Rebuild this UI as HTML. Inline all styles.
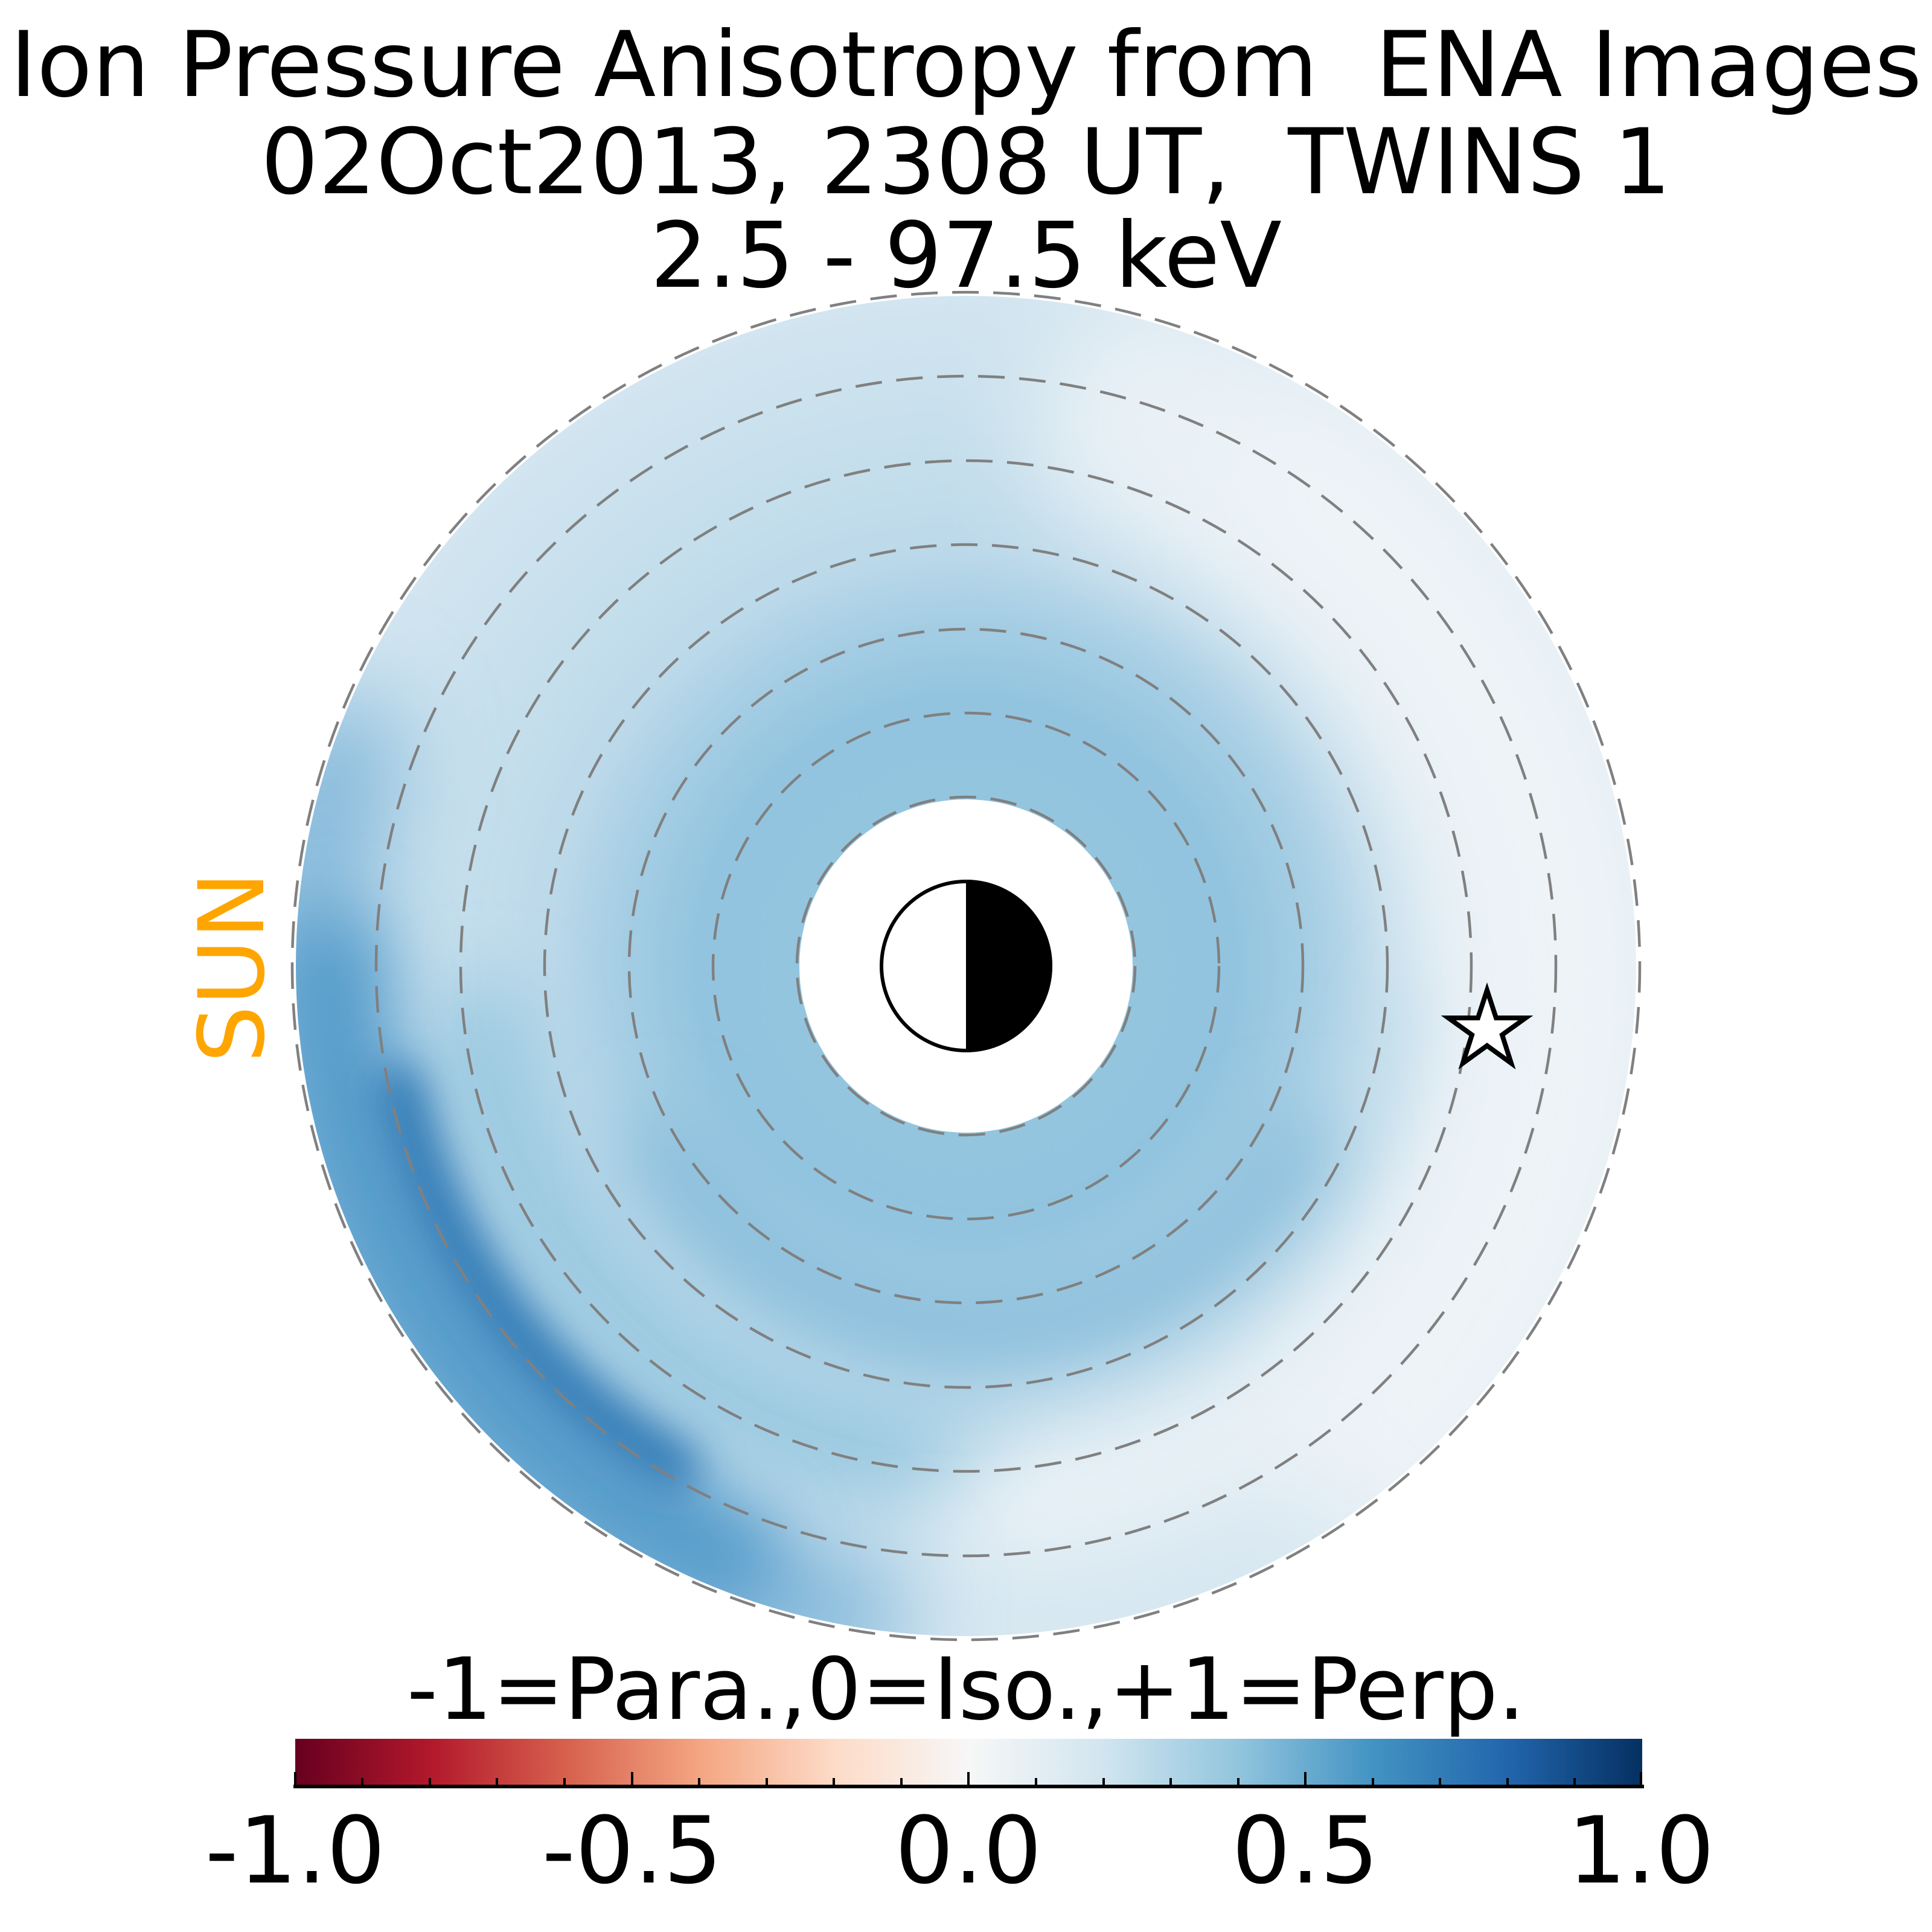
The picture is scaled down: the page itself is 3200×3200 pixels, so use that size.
<!DOCTYPE html>
<html><head><meta charset="utf-8"><style>
html,body{margin:0;padding:0;background:#fff;}
svg{display:block;}
</style></head><body>
<svg width="3200" height="3200" viewBox="0 0 3200 3200" xmlns="http://www.w3.org/2000/svg">
<defs>
<radialGradient id="base" gradientUnits="userSpaceOnUse" cx="1600" cy="1600" r="1110">
<stop offset="0.25" stop-color="#93c5df"/>
<stop offset="0.4" stop-color="#92c4df"/>
<stop offset="0.52" stop-color="#a6cee4"/>
<stop offset="0.62" stop-color="#bcd9ea"/>
<stop offset="0.78" stop-color="#c6dfec"/>
<stop offset="1" stop-color="#d2e5f0"/>
</radialGradient>
<linearGradient id="cb" x1="0" x2="1" y1="0" y2="0">
<stop offset="0" stop-color="#67001f"/>
<stop offset="0.1" stop-color="#b2182b"/>
<stop offset="0.2" stop-color="#d6604d"/>
<stop offset="0.3" stop-color="#f4a582"/>
<stop offset="0.4" stop-color="#fddbc7"/>
<stop offset="0.5" stop-color="#f7f7f7"/>
<stop offset="0.6" stop-color="#d1e5f0"/>
<stop offset="0.7" stop-color="#92c5de"/>
<stop offset="0.8" stop-color="#4393c3"/>
<stop offset="0.9" stop-color="#2166ac"/>
<stop offset="1" stop-color="#053061"/>
</linearGradient>
<filter id="b80" filterUnits="userSpaceOnUse" x="0" y="0" width="3200" height="3200"><feGaussianBlur stdDeviation="80"/></filter>
<filter id="b60" filterUnits="userSpaceOnUse" x="0" y="0" width="3200" height="3200"><feGaussianBlur stdDeviation="60"/></filter>
<filter id="b45" filterUnits="userSpaceOnUse" x="0" y="0" width="3200" height="3200"><feGaussianBlur stdDeviation="45"/></filter>
<filter id="b25" filterUnits="userSpaceOnUse" x="0" y="0" width="3200" height="3200"><feGaussianBlur stdDeviation="35"/></filter>
<mask id="ann">
<rect width="3200" height="3200" fill="#000"/>
<circle cx="1600" cy="1600" r="1110" fill="#fff"/>
<circle cx="1600" cy="1600" r="276" fill="#000"/>
</mask>
</defs>

<g mask="url(#ann)">
<circle cx="1600" cy="1600" r="1110" fill="url(#base)"/>
<!-- lower half medium ring -->
<path d="M 800 1700 A 805 805 0 0 0 2400 1700" fill="none" stroke="#98c8e0" stroke-width="150" stroke-linecap="round" filter="url(#b60)"/>
<!-- right side lightening -->
<path d="M 1925 707 A 950 950 0 0 1 1765 2535" fill="none" stroke="#e9f1f6" stroke-width="420" stroke-linecap="round" filter="url(#b80)"/>
<path d="M 2150 800 A 1050 1050 0 0 1 2300 2380" fill="none" stroke="#edf3f7" stroke-width="300" stroke-linecap="round" filter="url(#b80)"/>
<!-- bottom lighter outer -->
<path d="M 2100 2580 A 1100 1100 0 0 1 1500 2700" fill="none" stroke="#d6e7f1" stroke-width="220" stroke-linecap="round" filter="url(#b80)"/>
<!-- lower-left band, layered -->
<path d="M 560 1250 A 1100 1100 0 0 0 1400 2680" fill="none" stroke="#7fb6d9" stroke-width="200" stroke-linecap="round" filter="url(#b80)"/>
<path d="M 545 1600 A 1060 1060 0 0 0 1200 2580" fill="none" stroke="#559bcb" stroke-width="180" stroke-linecap="round" filter="url(#b60)"/>
<path d="M 660 1800 A 960 960 0 0 0 1120 2430" fill="none" stroke="#2e78b4" stroke-width="80" stroke-linecap="round" filter="url(#b25)"/>
<!-- inner ring darker at bottom -->
<path d="M 1100 1900 A 600 600 0 0 0 2150 1900" fill="none" stroke="#88bddb" stroke-width="120" stroke-linecap="round" filter="url(#b60)"/>
</g>

<!-- dashed circles -->
<g fill="none" stroke="#808080" stroke-width="4.5" stroke-dasharray="44 24">
<circle cx="1600" cy="1600" r="280"/>
<circle cx="1600" cy="1600" r="419"/>
<circle cx="1600" cy="1600" r="558"/>
<circle cx="1600" cy="1600" r="698"/>
<circle cx="1600" cy="1600" r="837"/>
<circle cx="1600" cy="1600" r="977"/>
<circle cx="1600" cy="1600" r="1116"/>
</g>

<!-- earth -->
<circle cx="1600" cy="1600" r="140" fill="#fff" stroke="#000" stroke-width="6"/>
<path d="M 1600 1457 A 143 143 0 0 1 1600 1743 Z" fill="#000"/>

<!-- star -->
<polygon points="2463,1640 2478,1686 2527,1686 2488,1714 2503,1761 2463,1732 2423,1761 2438,1714 2399,1686 2448,1686" fill="#fff" stroke="#000" stroke-width="8" stroke-linejoin="miter"/>

<!-- titles -->
<g font-family="'DejaVu Sans','Liberation Sans',sans-serif" font-size="150" fill="#000" text-anchor="middle">
<text x="1600" y="159" xml:space="preserve">Ion Pressure Anisotropy from  ENA Images</text>
<text x="1600" y="320" xml:space="preserve">02Oct2013, 2308 UT,  TWINS 1</text>
<text x="1600" y="475">2.5 - 97.5 keV</text>
</g>

<text x="0" y="0" transform="translate(436,1602) rotate(-90)" font-family="'DejaVu Sans','Liberation Sans',sans-serif" font-size="150" fill="#ffa500" text-anchor="middle">SUN</text>

<!-- colorbar -->
<text x="1600" y="2847" font-family="'DejaVu Sans','Liberation Sans',sans-serif" font-size="142" text-anchor="middle" fill="#000">-1=Para.,0=Iso.,+1=Perp.</text>
<rect x="489" y="2880" width="2231" height="77" fill="url(#cb)"/>
<line x1="486" y1="2959" x2="2723" y2="2959" stroke="#000" stroke-width="6"/>
<g stroke="#000" stroke-width="4">
<line x1="489" y1="2957" x2="489" y2="2935"/>
<line x1="600" y1="2957" x2="600" y2="2945"/>
<line x1="712" y1="2957" x2="712" y2="2945"/>
<line x1="823" y1="2957" x2="823" y2="2945"/>
<line x1="935" y1="2957" x2="935" y2="2945"/>
<line x1="1047" y1="2957" x2="1047" y2="2935"/>
<line x1="1158" y1="2957" x2="1158" y2="2945"/>
<line x1="1270" y1="2957" x2="1270" y2="2945"/>
<line x1="1381" y1="2957" x2="1381" y2="2945"/>
<line x1="1493" y1="2957" x2="1493" y2="2945"/>
<line x1="1604" y1="2957" x2="1604" y2="2935"/>
<line x1="1716" y1="2957" x2="1716" y2="2945"/>
<line x1="1828" y1="2957" x2="1828" y2="2945"/>
<line x1="1939" y1="2957" x2="1939" y2="2945"/>
<line x1="2051" y1="2957" x2="2051" y2="2945"/>
<line x1="2162" y1="2957" x2="2162" y2="2935"/>
<line x1="2274" y1="2957" x2="2274" y2="2945"/>
<line x1="2385" y1="2957" x2="2385" y2="2945"/>
<line x1="2497" y1="2957" x2="2497" y2="2945"/>
<line x1="2608" y1="2957" x2="2608" y2="2945"/>
<line x1="2718" y1="2957" x2="2718" y2="2935"/>
</g>
<g font-family="'DejaVu Sans','Liberation Sans',sans-serif" font-size="153" fill="#000" text-anchor="middle">
<text x="489" y="3118">-1.0</text>
<text x="1047" y="3118">-0.5</text>
<text x="1604" y="3118">0.0</text>
<text x="2162" y="3118">0.5</text>
<text x="2718" y="3118">1.0</text>
</g>
</svg>
</body></html>
